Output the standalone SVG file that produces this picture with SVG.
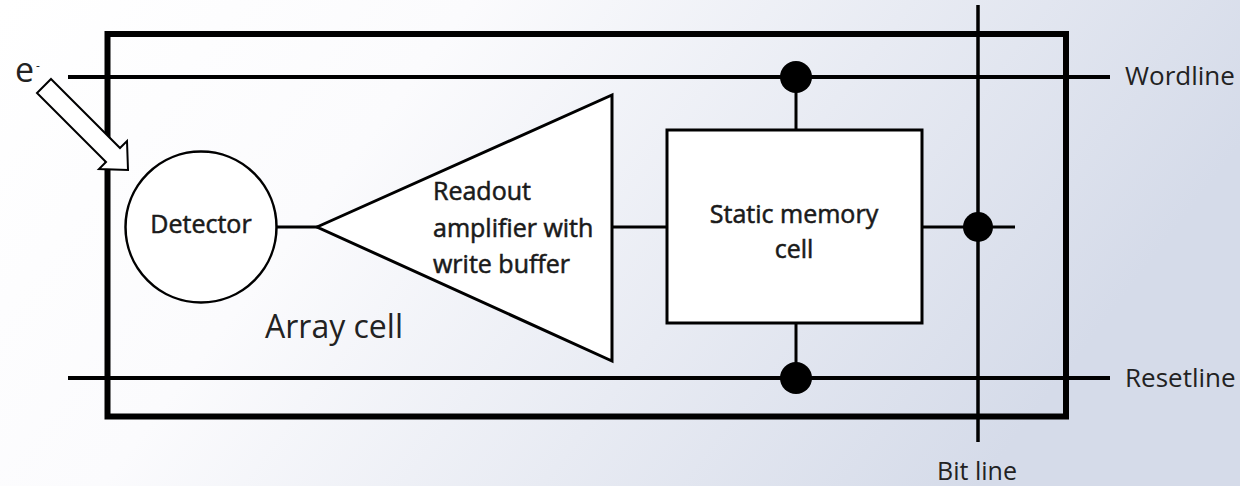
<svg xmlns="http://www.w3.org/2000/svg" width="1240" height="486" viewBox="0 0 1240 486">
  <defs>
    <linearGradient id="bg" x1="0" y1="0" x2="1" y2="0.3">
      <stop offset="0" stop-color="#ffffff"/>
      <stop offset="0.35" stop-color="#fbfbfd"/>
      <stop offset="1" stop-color="#d5dbe9"/>
    </linearGradient>
    <style>
      .ln { stroke: #000; fill: none; }
      .shape { fill: #fff; stroke: #000; }
      .lbl { font-family: "Open Sans", "Liberation Sans", sans-serif; fill: #222; }
      .in { font-family: "Open Sans", "Liberation Sans", sans-serif; font-size: 25px; font-weight: 400; fill: #1a1a1a; stroke: #1a1a1a; stroke-width: 0.55px; }
    </style>
  </defs>
  <rect x="0" y="0" width="1240" height="486" fill="url(#bg)"/>

  <g id="array-cell">
    <rect x="107.5" y="34" width="958.5" height="382.5" fill="none" stroke="#000" stroke-width="6"/>
    <text class="lbl" x="265" y="338" font-size="32" fill="#333">Array cell</text>
  </g>

  <g id="connectors">
    <line class="ln" x1="68" y1="77" x2="1110" y2="77" stroke-width="4"/>
    <line class="ln" x1="68" y1="378" x2="1110" y2="378" stroke-width="4"/>
    <line class="ln" x1="978" y1="5" x2="978" y2="442" stroke-width="3.5"/>
    <line class="ln" x1="277" y1="227" x2="318" y2="227" stroke-width="3"/>
    <line class="ln" x1="612" y1="227" x2="667" y2="227" stroke-width="3"/>
    <line class="ln" x1="922" y1="227" x2="1015" y2="227" stroke-width="3"/>
    <line class="ln" x1="796" y1="77" x2="796" y2="130" stroke-width="3"/>
    <line class="ln" x1="796" y1="323" x2="796" y2="378" stroke-width="3"/>
    <circle cx="796" cy="77" r="16" fill="#000"/>
    <circle cx="796" cy="378" r="16" fill="#000"/>
    <circle cx="978" cy="227" r="15" fill="#000"/>
  </g>

  <g id="detector">
    <circle class="shape" cx="201" cy="227" r="75.5" stroke-width="2.5"/>
    <text class="in" x="201" y="233" text-anchor="middle">Detector</text>
  </g>

  <g id="amplifier">
    <polygon class="shape" points="317,227 612,95 612,361" stroke-width="3"/>
    <text class="in" x="433" y="200">Readout</text>
    <text class="in" x="433" y="237">amplifier with</text>
    <text class="in" x="433" y="273">write buffer</text>
  </g>

  <g id="memory">
    <rect class="shape" x="667" y="130" width="255" height="193" stroke-width="3"/>
    <text class="in" x="794" y="223" text-anchor="middle">Static memory</text>
    <text class="in" x="794" y="258" text-anchor="middle">cell</text>
  </g>

  <g id="electron">
    <polygon class="shape" points="51,79 120,148 127,141 128,170 99,169 106,162 37,93" stroke-width="2"/>
    <text class="lbl" x="15" y="82" font-size="34" fill="#333">e</text>
    <text class="lbl" x="36" y="70" font-size="12" fill="#999">-</text>
  </g>

  <g id="labels">
    <text class="lbl" x="1125" y="85" font-size="26">Wordline</text>
    <text class="lbl" x="1125" y="387" font-size="26">Resetline</text>
    <text class="lbl" x="977" y="480" font-size="25" text-anchor="middle">Bit line</text>
  </g>
</svg>
